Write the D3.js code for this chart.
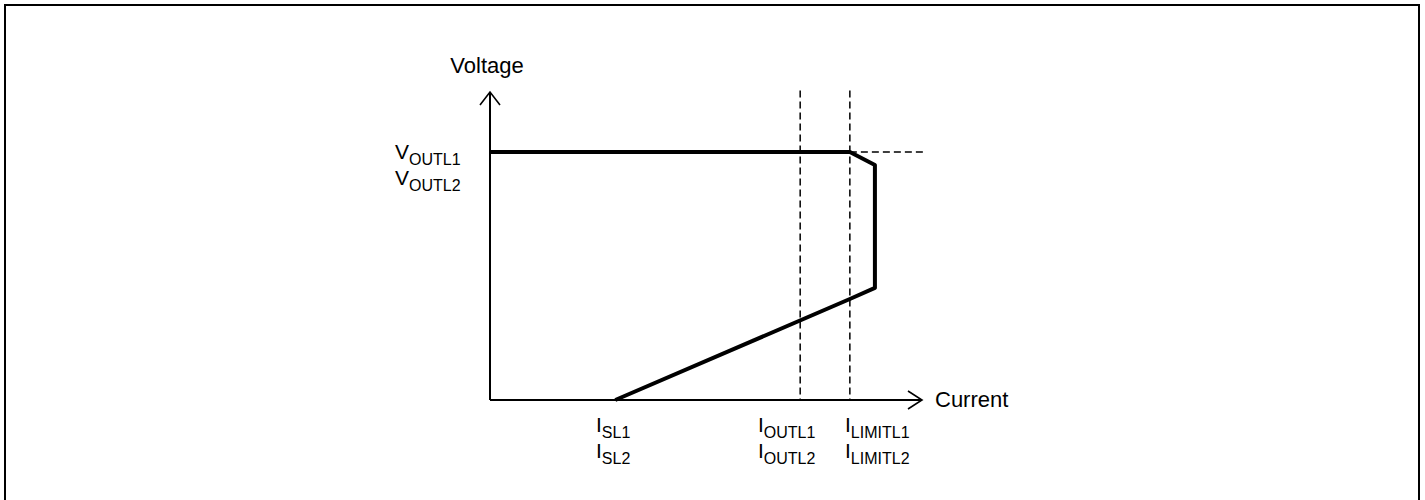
<!DOCTYPE html>
<html>
<head>
<meta charset="utf-8">
<script src="https://cdn.jsdelivr.net/npm/d3@7"></script>
<style>
  html, body { margin: 0; padding: 0; background: #fff; }
  text { font-family: "Liberation Sans", Arial, sans-serif; fill: #000; }
</style>
</head>
<body>
<div id="chart"></div>
<script>
// values in arbitrary units (axis runs 0..10)
const curveI = [0, 8.33, 8.91, 8.91, 8.33, 2.9]
const curveV = [8.05, 8.05, 7.63, 3.64, 3.28, 0]
const guideI = [7.18, 8.33]          // I_OUTL, I_LIMITL
const vOut = 8.05
const xLabels = [
  {main: "I", subs: ["SL1", "SL2"]},
  {main: "I", subs: ["OUTL1", "OUTL2"]},
  {main: "I", subs: ["LIMITL1", "LIMITL2"]}
]
const yLabels = [{main: "V", subs: ["OUTL1", "OUTL2"]}]

let width = 1425
let height = 500
// left edge of each current label (labels are not centred on their marks)
const xLabelLeft = [596, 758, 845]

const svg = d3.select("#chart").append("svg")
  .attr("width", width)
  .attr("height", height)

// frame (no bottom edge visible)
svg.append("path")
  .attr("d", `M5,${height} V5 H1419 V${height}`)
  .attr("fill", "none")
  .attr("stroke", "#000")
  .attr("stroke-width", 2)

const x = d3.scaleLinear().domain([0, 10]).range([490, 922])
const y = d3.scaleLinear().domain([0, 10]).range([400, 92])

// dashed guides
const guides = svg.append("g")
  .attr("stroke", "#000")
  .attr("stroke-width", 1.5)
  .attr("stroke-dasharray", "7,4")
guides.selectAll("line.v")
  .data(guideI)
  .join("line")
  .attr("class", "v")
  .attr("x1", d => x(d)).attr("x2", d => x(d))
  .attr("y1", y(10.05)).attr("y2", y(0))
guides.append("line")
  .attr("x1", x(8.33)).attr("x2", x(10.07))
  .attr("y1", y(vOut)).attr("y2", y(vOut))

// axes
const axes = svg.append("g")
  .attr("fill", "none")
  .attr("stroke", "#000")
  .attr("stroke-width", 2)
axes.append("path")
  .attr("d", `M${x(0)},${y(0)} H${x(10)}`)
axes.append("path")
  .attr("d", `M${x(0)},${y(0)} V${y(10)}`)
// arrow heads
axes.append("path")
  .attr("stroke-width", 1.6)
  .attr("d", `M${x(10) - 14},${y(0) - 9} L${x(10)},${y(0)} L${x(10) - 14},${y(0) + 9}`)
axes.append("path")
  .attr("stroke-width", 1.6)
  .attr("d", `M${x(0) - 10},${y(10) + 13} L${x(0)},${y(10)} L${x(0) + 10},${y(10) + 13}`)

// characteristic
const line = d3.line().x(d => x(d[0])).y(d => y(d[1]))
svg.append("path")
  .datum(d3.zip(curveI, curveV))
  .attr("d", line)
  .attr("fill", "none")
  .attr("stroke", "#000")
  .attr("stroke-width", 4)
  .attr("stroke-linejoin", "round")

// axis titles
svg.append("text")
  .attr("x", 487).attr("y", 73)
  .attr("text-anchor", "middle")
  .attr("font-size", 22)
  .text("Voltage")
svg.append("text")
  .attr("x", 935).attr("y", y(0) + 7)
  .attr("font-size", 22)
  .text("Current")

function label(g, px, py, main, sub) {
  const t = g.append("text").attr("x", px).attr("y", py).attr("font-size", 21)
  t.append("tspan").text(main)
  t.append("tspan").attr("font-size", 16).attr("dy", 6).text(sub)
}

const lab = svg.append("g")
xLabels.forEach((d, j) => {
  d.subs.forEach((s, i) => label(lab, xLabelLeft[j], y(0) + 32 + i * 26, d.main, s))
})
yLabels.forEach(d => {
  d.subs.forEach((s, i) => label(lab, 395, y(vOut) + 7 + i * 26, d.main, s))
})
</script>
</body>
</html>
